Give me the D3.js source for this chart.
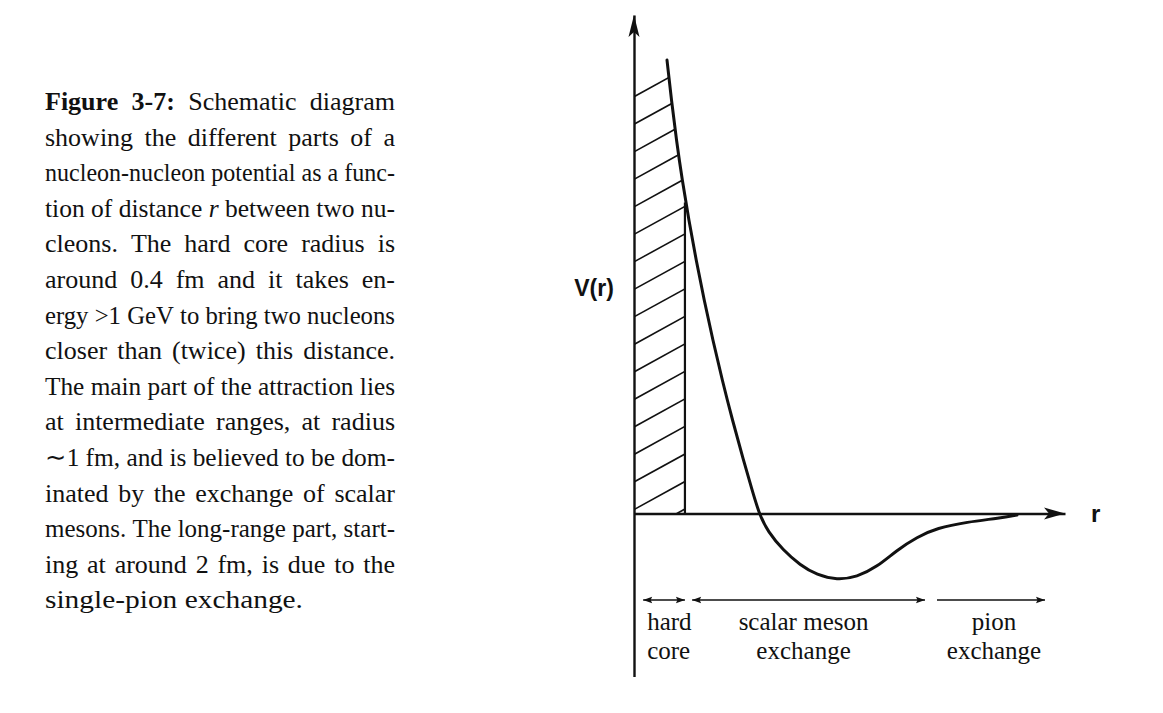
<!DOCTYPE html>
<html>
<head>
<meta charset="utf-8">
<script src="https://cdn.jsdelivr.net/npm/d3@7/dist/d3.min.js"></script>
<style>
  html, body { margin: 0; padding: 0; background: #fff; }
  svg { display: block; }
</style>
</head>
<body>
<svg id="chart" width="1163" height="713"></svg>
<script>
// ---------------- data ----------------
// Schematic nucleon-nucleon potential V(r) (r in fm, V in arbitrary units)
const potentialR = [0.2527, 0.2864, 0.3246, 0.3691, 0.4196, 0.4755, 0.5368, 0.6034, 0.6753, 0.7535, 0.8377, 0.9043, 0.9571, 1.026, 1.141, 1.271, 1.401, 1.554, 1.707, 1.860, 2.014, 2.167, 2.320, 2.549, 2.802, 2.932];
const potentialV = [6.822, 6.221, 5.619, 5.017, 4.416, 3.814, 3.212, 2.611, 2.009, 1.407, 0.805, 0.354, 0.000, -0.278, -0.549, -0.775, -0.925, -1.000, -0.955, -0.805, -0.549, -0.354, -0.218, -0.128, -0.068, -0.023];
const coreRadius = 0.39;
const axisRangeR = [0, 3.3];
const axisRangeV = [-2.45, 7.5];

const regionLabels = [["hard", "core"], ["scalar meson", "exchange"], ["pion", "exchange"]];
const regionStart = [0.07, 0.445, 2.32];
const regionEnd = [0.39, 2.228, 3.147];
const regionLeftHead = [true, true, false];
const regionRightHead = [true, true, true];

const axisLabelY = "V(r)";
const axisLabelX = "r";

const captionLines = [
  "Figure 3-7: Schematic diagram",
  "showing the different parts of a",
  "nucleon-nucleon potential as a func-",
  "tion of distance r between two nu-",
  "cleons. The hard core radius is",
  "around 0.4 fm and it takes en-",
  "ergy >1 GeV to bring two nucleons",
  "closer than (twice) this distance.",
  "The main part of the attraction lies",
  "at intermediate ranges, at radius",
  "\u223C1 fm, and is believed to be dom-",
  "inated by the exchange of scalar",
  "mesons. The long-range part, start-",
  "ing at around 2 fm, is due to the",
  "single-pion exchange."
];
const captionBoldWords = ["Figure", "3-7:"];   // first line
const captionItalicWords = ["r"];              // line 4

// ---------------- drawing ----------------
const svg = d3.select("#chart");
svg.append("rect").attr("width", 1163).attr("height", 713).attr("fill", "#fff");

const x = d3.scaleLinear().domain([0, 3.3]).range([634, 1065]);
const y = d3.scaleLinear().domain([-1, 7.5]).range([580, 15]);

const ink = "#111";
const pts = potentialR.map((r, i) => [r, potentialV[i]]);

// curve value at core radius (linear interpolation on the data)
const wallV = (() => {
  for (let i = 0; i < pts.length - 1; i++) {
    if (pts[i][0] <= coreRadius && pts[i + 1][0] >= coreRadius) {
      const t = (coreRadius - pts[i][0]) / (pts[i + 1][0] - pts[i][0]);
      return pts[i][1] + t * (pts[i + 1][1] - pts[i][1]);
    }
  }
  return 0;
})();

// hatch clip region (hard core)
const clipPts = [[x(0), y(0)], [x(0), y(pts[0][1])]]
  .concat(pts.filter(p => p[0] <= coreRadius).map(p => [x(p[0]), y(p[1])]))
  .concat([[x(coreRadius), y(wallV)], [x(coreRadius), y(0)]]);
svg.append("clipPath").attr("id", "coreClip")
  .append("polygon").attr("points", clipPts.map(p => p.join(",")).join(" "));

const hatchTop = 6.27, hatchStep = 0.414, hatchSlope = 0.55;
const hatchG = svg.append("g").attr("clip-path", "url(#coreClip)");
d3.range(hatchTop, -0.7, -hatchStep).forEach(v => {
  const x0 = x(0), y0 = y(v), x1 = x(0.6);
  hatchG.append("line")
    .attr("x1", x0).attr("y1", y0)
    .attr("x2", x1).attr("y2", y0 - (x1 - x0) * hatchSlope)
    .attr("stroke", ink).attr("stroke-width", 1.6);
});

// hard core wall
svg.append("line")
  .attr("x1", x(coreRadius)).attr("x2", x(coreRadius))
  .attr("y1", y(wallV) + 6).attr("y2", y(0))
  .attr("stroke", ink).attr("stroke-width", 2.2);

// axes (d3 axes with no ticks)
const xAxis = d3.axisBottom(x).tickValues([]).tickSizeOuter(0);
const yAxisScale = d3.scaleLinear().domain(axisRangeV).range([y(axisRangeV[0]), y(axisRangeV[1])]);
const yAxis = d3.axisLeft(yAxisScale).tickValues([]).tickSizeOuter(0);
svg.append("g").attr("transform", `translate(0,${y(0)})`).call(xAxis)
  .select(".domain").attr("stroke", ink).attr("stroke-width", 2.4);
svg.append("g").attr("transform", `translate(${x(0)},0)`).call(yAxis)
  .select(".domain").attr("stroke", ink).attr("stroke-width", 2.4);

function arrowHead(tx, ty, dir, len, hw, notch) {
  const [dx, dy] = dir;
  const nx = -dy, ny = dx;
  const bx = tx - dx * len, by = ty - dy * len;
  const mx = tx - dx * (len - notch), my = ty - dy * (len - notch);
  return `M${tx},${ty}L${bx + nx * hw},${by + ny * hw}L${mx},${my}L${bx - nx * hw},${by - ny * hw}Z`;
}
svg.append("path").attr("d", arrowHead(x(0), y(axisRangeV[1]), [0, -1], 22, 5.5, 5)).attr("fill", ink);
svg.append("path").attr("d", arrowHead(x(axisRangeR[1]), y(0), [1, 0], 21, 6, 5)).attr("fill", ink);

// potential curve
svg.append("path")
  .datum(pts)
  .attr("d", d3.line().x(d => x(d[0])).y(d => y(d[1])).curve(d3.curveBasis))
  .attr("fill", "none").attr("stroke", ink).attr("stroke-width", 3)
  .attr("stroke-linecap", "round").attr("stroke-linejoin", "round");

// axis labels
svg.append("text").text(axisLabelY)
  .attr("x", 594).attr("y", 296).attr("text-anchor", "middle")
  .attr("font-family", "Liberation Sans, Arial, sans-serif").attr("font-weight", "bold")
  .attr("font-size", 23).attr("fill", ink);
svg.append("text").text(axisLabelX)
  .attr("x", 1091).attr("y", 522)
  .attr("font-family", "Liberation Sans, Arial, sans-serif").attr("font-weight", "bold")
  .attr("font-size", 24).attr("fill", ink);

// region arrows + labels
const arrowY = 600;
regionLabels.forEach((lines, i) => {
  const xa = x(regionStart[i]), xb = x(regionEnd[i]);
  svg.append("line").attr("x1", xa).attr("x2", xb).attr("y1", arrowY).attr("y2", arrowY)
    .attr("stroke", ink).attr("stroke-width", 1.6);
  if (regionLeftHead[i]) svg.append("path").attr("d", arrowHead(xa, arrowY, [-1, 0], 9, 3.2, 1.5)).attr("fill", ink);
  if (regionRightHead[i]) svg.append("path").attr("d", arrowHead(xb, arrowY, [1, 0], 9, 3.2, 1.5)).attr("fill", ink);
  const cx = i === 0 ? xa + 4 : (xa + xb) / 2 + (i === 2 ? 3 : -5);
  lines.forEach((t, j) => {
    svg.append("text").text(t)
      .attr("x", cx).attr("y", 630 + j * 29)
      .attr("text-anchor", i === 0 ? "start" : "middle")
      .attr("font-family", "Liberation Serif, Times New Roman, serif")
      .attr("font-size", 25).attr("fill", ink);
  });
});

// caption (justified, like the typeset original)
const capLeft = 45, capTop = 110, capLead = 35.6, capFs = 26;
const capWidth = 350, lastWidth = 258;
const capG = svg.append("g").attr("font-family", "Liberation Serif, Times New Roman, serif")
  .attr("font-size", capFs).attr("fill", ink);
captionLines.forEach((line, li) => {
  const lineG = capG.append("g");
  const words = line.split(" ");
  const by = capTop + li * capLead;
  const nodes = words.map(w => {
    const t = lineG.append("text").attr("y", by).text(w);
    if (li === 0 && captionBoldWords.includes(w)) t.attr("font-weight", "bold");
    if (li === 3 && captionItalicWords.includes(w)) t.attr("font-style", "italic");
    return t;
  });
  const widths = nodes.map(n => n.node().getComputedTextLength());
  const total = d3.sum(widths);
  const minGap = capFs * 0.25;
  const last = li === captionLines.length - 1;
  const target = last ? lastWidth : capWidth;
  let gap = minGap, sx = 1;
  const natural = total + minGap * (nodes.length - 1);
  if (last || natural > target) {
    sx = target / natural;
  } else {
    gap = (target - total) / (nodes.length - 1);
  }
  let cx = 0;
  nodes.forEach((n, k) => { n.attr("x", cx); cx += widths[k] + gap; });
  lineG.attr("transform", `translate(${capLeft},0) scale(${sx},1)`);
});
</script>
</body>
</html>
